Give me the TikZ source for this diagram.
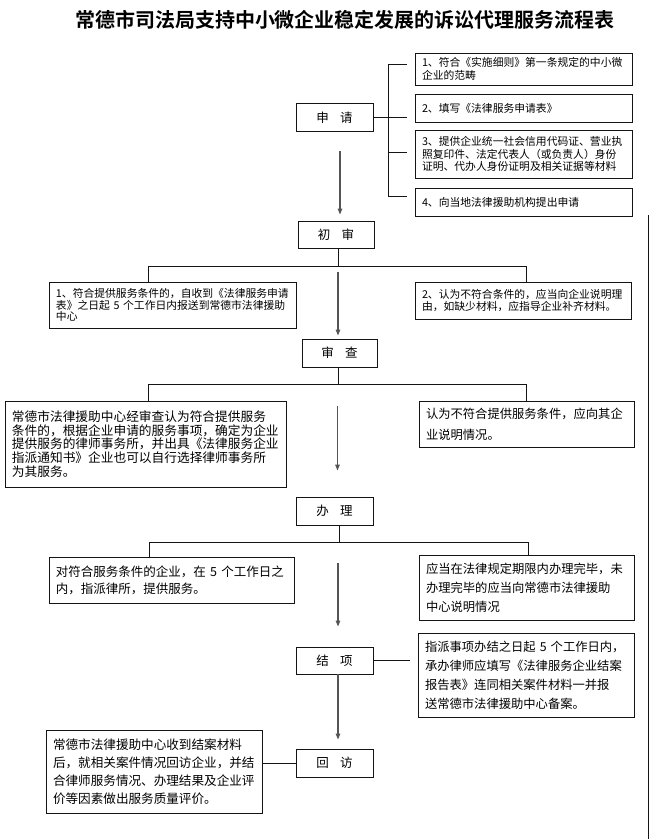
\documentclass[tikz,border=0pt]{standalone}
\usepackage{fontspec}
\setmainfont{Noto Sans CJK SC}
\newfontfamily\titlefont{Noto Sans CJK SC Bold}
\usetikzlibrary{arrows.meta}
\definecolor{ink}{RGB}{20, 20, 20}
\definecolor{arrowgrey}{RGB}{85, 85, 85}

\begin{document}
\begin{tikzpicture}[x=1pt, y=-1pt,
    line/.style={draw=ink, line width=0.9pt},
    flow/.style={draw=arrowgrey, line width=1.2pt, -{Triangle[length=6pt, width=4.5pt]}},
    stepbox/.style={draw=ink, line width=0.9pt, minimum width=77pt, minimum height=28pt,
                    inner sep=0pt, font=\fontsize{12.5}{14}\selectfont},
    note/.style={draw=ink, line width=0.9pt, align=left, inner xsep=7pt, inner ysep=2pt},
    smallfont/.style={font=\fontsize{10.8}{12.4}\selectfont},
    midfont/.style={font=\fontsize{12.3}{19}\selectfont}]

  \fill[white] (0, 0) rectangle (652, 839);
  \useasboundingbox (0, 0) rectangle (652, 839);

  \node[font=\titlefont\fontsize{20}{24}\selectfont] (title) at (345, 20)
    {常德市司法局支持中小微企业稳定发展的诉讼代理服务流程表};

  % steps
  \node[stepbox] (sq) at (334.5, 117.5) {申\hspace{0.9em}请};
  \node[stepbox, minimum width=76pt, minimum height=27pt] (cs) at (336, 234.5) {初\hspace{0.9em}审};
  \node[stepbox, minimum width=75pt] (sc) at (339.5, 353) {审\hspace{0.9em}查};
  \node[stepbox] (bl) at (334.5, 511) {办\hspace{0.9em}理};
  \node[stepbox, minimum height=27pt] (jx) at (334.5, 660.5) {结\hspace{0.9em}项};
  \node[stepbox] (hf) at (334.5, 763) {回\hspace{0.9em}访};

  % 申请
  \node[note, smallfont, text width=203pt, minimum height=32pt] (t1) at (523.5, 69)
    {1、符合《实施细则》第一条规定的中小微\\企业的范畴};
  \node[note, smallfont, text width=203pt, minimum height=28pt] (t2) at (523.5, 108)
    {2、填写《法律服务申请表》};
  \node[note, smallfont, text width=203pt, minimum height=48pt] (t3) at (523.5, 154)
    {3、提供企业统一社会信用代码证、营业执\\照复印件、法定代表人（或负责人）身份\\证明、代办人身份证明及相关证据等材料};
  \node[note, smallfont, text width=203pt, minimum height=28pt] (t4) at (523.5, 202)
    {4、向当地法律援助机构提出申请};

  \draw[line] (sq.east) -- ([xshift=-8pt]sq.east -| t2.west);
  \draw[line] ([xshift=-8pt, yshift=5pt]t1.west) -| ([xshift=-26pt, yshift=6pt]t4.west)
              -- ([xshift=-8pt, yshift=6pt]t4.west);
  \draw[line] ([xshift=-26pt, yshift=2pt]t3.west) -- ([xshift=-8pt, yshift=2pt]t3.west);
  \draw[flow, shorten <=19pt, shorten >=6pt] ([xshift=5.5pt]sq.south) -- ([xshift=4pt]cs.north);

  % 初审
  \node[note, font=\fontsize{10.8}{11.6}\selectfont, text width=233pt, minimum height=46pt] (csl) at (172.5, 305)
    {1、符合提供服务条件的，自收到《法律服务申请\\表》之日起 5 个工作日内报送到常德市法律援助\\中心};
  \node[note, font=\fontsize{10.8}{11.6}\selectfont, text width=202pt, minimum height=37pt] (csr) at (523, 300.5)
    {2、认为不符合条件的，应当向企业说明理\\由，如缺少材料，应指导企业补齐材料。};

  \path ([xshift=2pt]cs.south) ++(0, 18) coordinate (csj);
  \draw[line] ([xshift=2pt]cs.south) -- (csj);
  \draw[line] ([xshift=-24.5pt]csl.north) |- (csj) -| ([xshift=3pt]csr.north);
  \draw[flow, shorten <=24pt, shorten >=3pt] ([xshift=2pt]cs.south) -- ([xshift=-1.5pt]sc.north);

  % 审查
  \node[note, font=\fontsize{12.7}{13.6}\selectfont, text width=267pt, minimum height=86pt] (scl) at (145.5, 444)
    {常德市法律援助中心经审查认为符合提供服务\\条件的，根据企业申请的服务事项，确定为企业\\提供服务的律师事务所，并出具《法律服务企业\\指派通知书》企业也可以自行选择律师事务所\\为其服务。};
  \node[note, font=\fontsize{12.3}{21}\selectfont, text width=201pt, minimum height=46pt] (scr) at (526.5, 424)
    {认为不符合提供服务条件，应向其企\\业说明情况。};

  \path ([xshift=-1.5pt]sc.south) ++(0, 17) coordinate (scj);
  \draw[line] ([xshift=-1.5pt]sc.south) -- (scj);
  \draw[line] ([xshift=2.5pt]scl.north) |- (scj) -| ([xshift=-0.5pt]scr.north);
  \draw[flow, shorten <=39pt, shorten >=26pt] ([xshift=-2pt]sc.south) -- ([xshift=3pt]bl.north);

  % 办理
  \node[note, font=\fontsize{12.5}{17}\selectfont, text width=231pt, minimum height=46pt] (bll) at (171.5, 580)
    {对符合服务条件的企业，在 5 个工作日之\\内，指派律所，提供服务。};
  \node[note, midfont, text width=201pt, minimum height=65pt] (blr) at (526.5, 587.5)
    {应当在法律规定期限内办理完毕，未\\办理完毕的应当向常德市法律援助\\中心说明情况};

  \path ([xshift=4.5pt]bl.south) ++(0, 17) coordinate (blj);
  \draw[line] ([xshift=4.5pt]bl.south) -- (blj);
  \draw[line] ([xshift=-22.5pt]bll.north) |- (blj) -| ([xshift=1.5pt]blr.north);
  \draw[flow, shorten <=38pt, shorten >=20pt] ([xshift=3.5pt]bl.south) -- ([xshift=3.5pt]jx.north);

  % 结项, 回访
  \node[note, midfont, text width=202pt, minimum height=84pt] (jxr) at (526, 675)
    {指派事项办结之日起 5 个工作日内，\\承办律师应填写《法律服务企业结案\\报告表》连同相关案件材料一并报\\送常德市法律援助中心备案。};
  \node[note, font=\fontsize{12.6}{18}\selectfont, text width=202pt, minimum height=83pt] (hfl) at (154, 771.5)
    {常德市法律援助中心收到结案材料\\后，就相关案件情况回访企业，并结\\合律师服务情况、办理结果及企业评\\价等因素做出服务质量评价。};

  \draw[line, shorten >=8pt] (jx.east) -- (jx.east -| jxr.west);
  \draw[flow, shorten >=9pt] ([xshift=3.5pt]jx.south) -- ([xshift=3.5pt]hf.north);
  \draw[line] (hf.west) -- (hf.west -| hfl.east);

  \draw[line] (648, 215) -- (648, 839);

\end{tikzpicture}
\end{document}
